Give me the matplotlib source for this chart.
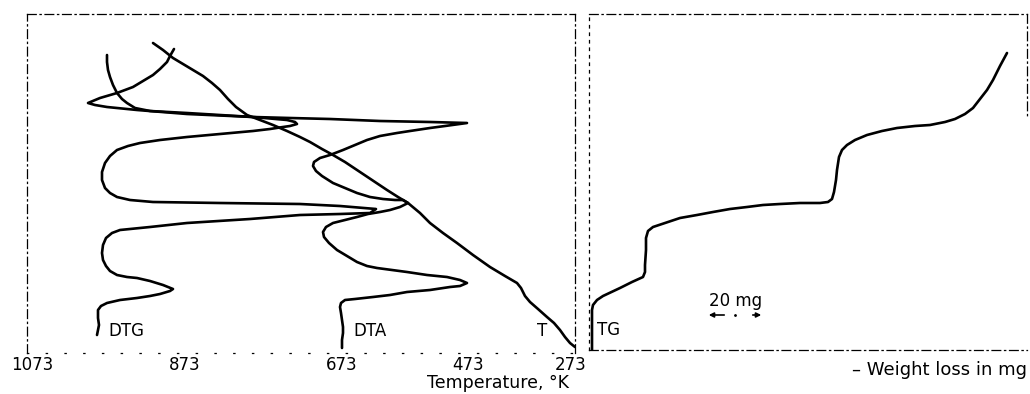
import matplotlib
matplotlib.use("Agg")
import matplotlib.pyplot as plt

# ---- data (chart units: horizontal = recorder scale, vertical = time, downward) ----
temp_labels = ["1073", "873", "673", "473", "273"]
temp_pos = [32, 185, 342, 468, 571]

t_x = [153, 163, 173, 183, 193, 203, 212, 220, 228, 236, 247, 260, 273, 287, 300, 310, 322, 333, 345,
       357, 372, 387, 398, 408, 420, 430, 443, 457, 473, 490, 505, 517, 521, 525, 530, 538, 547, 554,
       560, 565, 570, 575]
t_y = [43, 50, 58, 64, 70, 76, 83, 90, 99, 107, 115, 120, 125, 131, 137, 142, 149, 155, 162,
       170, 180, 190, 197, 203, 213, 223, 233, 243, 255, 267, 276, 283, 288, 296, 302, 309, 317, 323,
       330, 337, 343, 347]

dta_x = [174, 170, 167, 160, 153, 143, 133, 117, 100, 88, 95, 107, 137, 187, 253, 290, 330, 380, 430, 467,
         445, 430, 410, 397, 380, 367, 355, 343, 330, 320, 314, 313, 316, 322, 333, 345, 357, 370, 383,
         395, 403, 408, 400, 390, 380, 368, 357, 345, 333, 326, 323, 324, 329, 337, 347, 357, 367, 377,
         392, 407, 427, 447, 460, 467, 460, 450, 430, 407, 390, 373, 355, 345, 341, 340, 341, 342, 343,
         343, 342, 342]
dta_y = [49, 56, 62, 69, 75, 81, 87, 93, 98, 103, 105, 107, 110, 114, 117, 118, 119, 121, 122, 123,
         126, 128, 131, 133, 136, 140, 145, 150, 155, 158, 162, 166, 171, 176, 183, 188, 193, 197, 199,
         200, 200, 203, 207, 210, 212, 214, 217, 220, 223, 227, 232, 237, 243, 250, 256, 262, 266, 268,
         270, 272, 275, 277, 280, 283, 286, 287, 290, 292, 295, 297, 299, 300, 303, 307, 313, 320, 327,
         333, 340, 348]

dtg_x = [107, 107, 108, 110, 113, 117, 122, 127, 135, 150, 187, 220, 253, 287, 295, 297, 290, 283, 270,
         253, 220, 187, 160, 140, 128, 117, 110, 105, 102, 102, 105, 110, 117, 130, 153, 220, 300, 340,
         376, 370, 340, 300, 250, 187, 150, 120, 112, 106, 103, 102, 103, 106, 110, 117, 127, 137, 150,
         163, 173, 170, 160, 150, 137, 120, 107, 101, 98, 98, 99, 98, 97]
dtg_y = [55, 62, 70, 77, 85, 93, 99, 103, 108, 111, 113, 115, 117, 120, 122, 124, 126, 127, 129,
         131, 134, 137, 140, 143, 146, 150, 156, 163, 172, 180, 188, 193, 197, 200, 202, 203, 204, 206,
         209, 213, 214, 215, 219, 223, 227, 230, 233, 238, 245, 253, 260, 266, 271, 275, 277, 278, 281,
         285, 289, 291, 294, 296, 298, 300, 303, 306, 310, 318, 325, 330, 335]

tg_x = [592, 592, 592, 593, 597, 603, 620, 632, 643, 645, 645, 646, 646, 648, 653, 665, 680, 697, 713,
        730, 747, 763, 780, 800, 820, 828, 832, 834, 836, 837, 839, 842, 847, 855, 867, 882, 897, 915,
        930, 945, 955, 965, 973, 980, 987, 993, 1000, 1007]
tg_y = [350, 330, 310, 305, 300, 296, 288, 282, 277, 272, 265, 250, 238, 231, 227, 223, 218, 215, 212,
        209, 207, 205, 204, 203, 203, 202, 199, 192, 180, 170, 157, 150, 145, 140, 135, 131, 128, 126,
        125, 122, 119, 114, 108, 99, 90, 80, 66, 53]

# ---- figure ----
W, H = 1030, 394
fig = plt.figure(figsize=(W / 100, H / 100), dpi=100)
plt.rcParams['font.family'] = ['DejaVu Sans']

def frac(x0, x1, y0, y1):
    return [x0 / W, 1 - y1 / H, (x1 - x0) / W, (y1 - y0) / H]

lw = 1.9
style = dict(color='black', lw=lw, solid_joinstyle='round', solid_capstyle='round')

axL = fig.add_axes(frac(27, 575, 14, 353))
axL.set_xlim(27, 575)
axL.set_ylim(353, 14)
axL.plot(t_x, t_y, **style)
axL.plot(dta_x, dta_y, **style)
axL.plot(dtg_x, dtg_y, **style)
axL.set_xticks(temp_pos)
axL.set_xticklabels(temp_labels, fontsize=12)
axL.tick_params(axis='x', length=0, pad=2)
axL.set_yticks([])
for s in ['top', 'left', 'right']:
    axL.spines[s].set_linestyle((0, (7, 3, 1, 3)))
    axL.spines[s].set_linewidth(0.9)
axL.spines['bottom'].set_linestyle((0, (1, 14)))
axL.spines['bottom'].set_linewidth(0.9)

axL.text(108, 331, "DTG", fontsize=12, va='center', ha='left')
axL.text(353, 331, "DTA", fontsize=12, va='center', ha='left')
axL.text(542, 331, "T", fontsize=12, va='center', ha='center')
axL.text(498, 383, "Temperature, °K", fontsize=12.5, va='center', ha='center')

axR = fig.add_axes(frac(589, 1027, 14, 350))
axR.set_xlim(589, 1027)
axR.set_ylim(350, 14)
axR.plot(tg_x, tg_y, **style)
axR.set_xticks([])
axR.set_yticks([])
for s in ['top', 'bottom', 'left', 'right']:
    axR.spines[s].set_linestyle((0, (7, 3, 1, 3)))
    axR.spines[s].set_linewidth(0.9)
axR.spines['right'].set_bounds(14, 117)
axR.spines['left'].set_linestyle((0, (2, 4)))

axR.text(597, 330, "TG", fontsize=12, va='center', ha='left')
axR.text(736, 301, "20 mg", fontsize=12, va='center', ha='center')
axR.annotate("", xy=(706, 315), xytext=(727, 315),
             arrowprops=dict(arrowstyle='-|>', color='black', lw=1.2, mutation_scale=7),
             annotation_clip=False)
axR.annotate("", xy=(764, 315), xytext=(750, 315),
             arrowprops=dict(arrowstyle='-|>', color='black', lw=1.2, mutation_scale=7),
             annotation_clip=False)
axR.plot([735], [315], marker='.', color='black', ms=2)
axR.text(1027, 370, "– Weight loss in mg", fontsize=13, va='center', ha='right')

fig.savefig("out.png", dpi=100)
